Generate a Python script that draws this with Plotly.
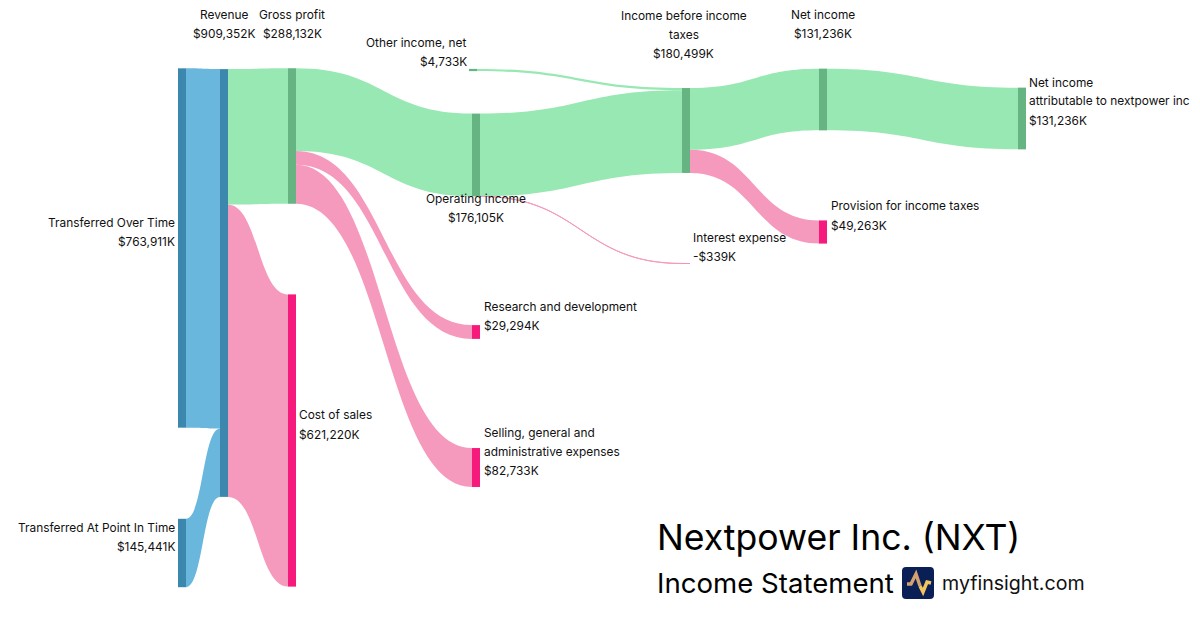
import plotly.graph_objects as go

names = ["Transferred Over Time", "Transferred At Point In Time", "Revenue", "Gross profit",
         "Cost of sales", "Operating income", "Research and development",
         "Selling, general and administrative expenses", "Other income, net",
         "Income before income taxes", "Interest expense", "Net income",
         "Provision for income taxes", "Net income attributable to nextpower inc"]
amounts = [763911, 145441, 909352, 288132, 621220, 176105, 29294, 82733, 4733, 180499, -339,
           131236, 49263, 131236]
kinds = ["rev", "rev", "rev", "gain", "loss", "gain", "loss", "loss", "gain", "gain", "loss",
         "gain", "loss", "gain"]

link_source = [0, 1, 2, 2, 3, 3, 3, 5, 5, 8, 9, 9, 11]
link_target = [2, 2, 3, 4, 5, 6, 7, 9, 10, 9, 11, 12, 13]
link_value = [763911, 145441, 288132, 621220, 176105, 29294, 82733, 175766, 339, 4733,
              131236, 49263, 131236]

# node centres in page pixels
node_cx = [182, 182, 224, 292, 292, 476, 476, 476, 473, 686, 686, 823, 823, 1022]
node_cy = [248, 553, 283, 136, 440.5, 155, 332, 467.5, 70, 130.5, 263.5, 99.5, 232, 118.5]

W, H = 1200, 630
node_colors = {"rev": "#3c87ad", "gain": "#65b481", "loss": "#f51a7c"}
link_colors = {"rev": "#69b7dd", "gain": "#98e8b3", "loss": "#f59abd"}

money = [("-" if a < 0 else "") + f"${abs(a):,}K" for a in amounts]

# label lines: node index, lines of text, anchor, x, y of each line
placements = [
    (0, ["Transferred Over Time"], "right", 175, [222, 242]),
    (1, ["Transferred At Point In Time"], "right", 175, [527, 546]),
    (2, ["Revenue"], "center", 224, [14, 33]),
    (3, ["Gross profit"], "center", 292, [14, 33]),
    (4, ["Cost of sales"], "left", 299, [414, 434]),
    (5, ["Operating income"], "center", 476, [198, 217]),
    (6, ["Research and development"], "left", 484, [306, 325]),
    (7, ["Selling, general and", "administrative expenses"], "left", 484, [432, 451, 470]),
    (8, ["Other income, net"], "right", 467, [43, 62]),
    (9, ["Income before income", "taxes"], "center", 684, [15, 34, 53]),
    (10, ["Interest expense"], "left", 693, [237, 256]),
    (11, ["Net income"], "center", 823, [14, 33]),
    (12, ["Provision for income taxes"], "left", 831, [206, 225]),
    (13, ["Net income", "attributable to nextpower inc"], "left", 1029, [83, 101, 120]),
]

fig = go.Figure(go.Sankey(
    arrangement="fixed",
    domain=dict(x=[0, 1], y=[0, 1]),
    node=dict(
        label=[""] * len(names),
        customdata=names,
        x=[x / W for x in node_cx],
        y=[y / H for y in node_cy],
        thickness=8,
        pad=40,
        color=[node_colors[k] for k in kinds],
        line=dict(width=0),
        hovertemplate="%{customdata}<extra></extra>",
    ),
    link=dict(
        source=link_source,
        target=link_target,
        value=link_value,
        color=[link_colors[kinds[t]] for t in link_target],
        line=dict(width=0),
        hoverinfo="skip",
    ),
))

font = "Inter, 'Noto Sans', sans-serif"
annotations = []


def put(text, x, y, anchor="left", size=11.88, color="#111111"):
    annotations.append(dict(text=text, x=x / W, y=1 - y / H, xref="paper", yref="paper",
                            xanchor=anchor, yanchor="middle", showarrow=False,
                            borderpad=0, borderwidth=0,
                            font=dict(family=font, size=size, color=color)))


for idx, lines, anchor, x, ys in placements:
    for line, y in zip(lines + [money[idx]], ys):
        put(line, x, y, anchor)

put("Nextpower Inc. (NXT)", 657, 537, size=35.6, color="#000000")
put("Income Statement", 657, 583, size=27.6, color="#000000")
put("myfinsight.com", 942, 583, size=19.6, color="#111111")


def sx(x):
    return x / W


def sy(y):
    return 1 - y / H


def poly(points):
    return "M" + " L".join(f"{sx(x):.5f},{sy(y):.5f}" for x, y in points)


def rounded(x0, y0, x1, y1, r):
    return (f"M{sx(x0 + r):.5f},{sy(y0):.5f} L{sx(x1 - r):.5f},{sy(y0):.5f} "
            f"Q{sx(x1):.5f},{sy(y0):.5f} {sx(x1):.5f},{sy(y0 + r):.5f} "
            f"L{sx(x1):.5f},{sy(y1 - r):.5f} Q{sx(x1):.5f},{sy(y1):.5f} {sx(x1 - r):.5f},{sy(y1):.5f} "
            f"L{sx(x0 + r):.5f},{sy(y1):.5f} Q{sx(x0):.5f},{sy(y1):.5f} {sx(x0):.5f},{sy(y1 - r):.5f} "
            f"L{sx(x0):.5f},{sy(y0 + r):.5f} Q{sx(x0):.5f},{sy(y0):.5f} {sx(x0 + r):.5f},{sy(y0):.5f} Z")


shapes = [
    dict(type="path", xref="paper", yref="paper", path=rounded(902, 567, 934, 599, 4),
         fillcolor="#0b1f57", line=dict(width=0)),
    dict(type="path", xref="paper", yref="paper", path=poly([(907, 584), (911, 584), (916, 574), (920, 586)]),
         line=dict(color="#d3a26e", width=3.4)),
    dict(type="path", xref="paper", yref="paper", path=poly([(920, 586), (923, 592), (927, 582), (931, 583)]),
         line=dict(color="#f3c65d", width=3.4)),
]

fig.update_layout(width=W, height=H, margin=dict(l=0, r=0, t=0, b=0), paper_bgcolor="white",
                  annotations=annotations, shapes=shapes, font=dict(family=font))
fig.write_html("out.html", post_script="document.body.style.margin='0';",
               config=dict(displayModeBar=False))
